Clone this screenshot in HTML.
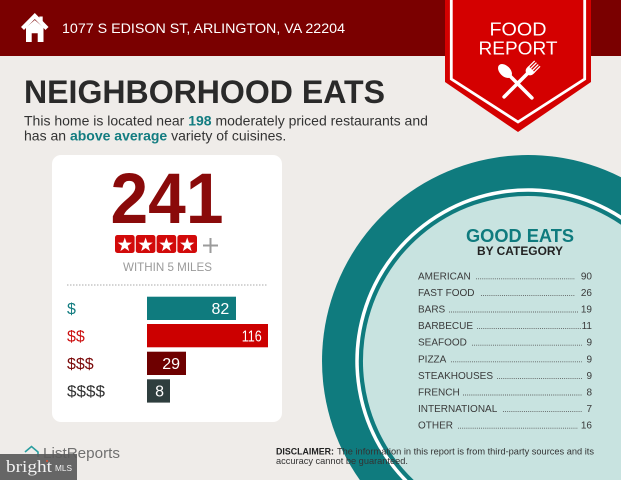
<!DOCTYPE html>
<html>
<head>
<meta charset="utf-8">
<style>
html,body{margin:0;padding:0;background:#efece9;width:621px;height:480px;overflow:hidden;}
svg{display:block;position:absolute;left:0;top:0;}
text{font-family:"Liberation Sans",Arial,sans-serif;}
</style>
</head>
<body>
<svg width="621" height="480" viewBox="0 0 621 480" xmlns="http://www.w3.org/2000/svg">
  <rect width="621" height="480" fill="#efece9"/>

  <!-- Plate circle (clipped to frame geometrically) -->
  <path d="M359.85,480 A206,206 0 0 1 621,177.2 L621,480 Z" fill="#0f7b7e"/>
  <path d="M402.8,480 A172.75,172.75 0 0 1 621,215.4 L621,480 Z" fill="#ffffff"/>
  <path d="M407.65,480 A169.25,169.25 0 0 1 621,219.6 L621,480 Z" fill="#0f7b7e"/>
  <path d="M413.7,480 A165,165 0 0 1 621,224.7 L621,480 Z" fill="#c8e3e0"/>

  <!-- Header bar -->
  <rect x="0" y="0" width="621" height="56" fill="#7a0000"/>

  <!-- House icon -->
  <polyline points="22.5,28.5 34.8,16 47,28.5" fill="none" stroke="#fff" stroke-width="4.2"/>
  <polygon points="26,27.5 34.8,20 43.5,27.5 43.5,42 37.7,42 37.7,33.3 31.7,33.3 31.7,42 26,42" fill="#fff"/>
  <rect x="39.3" y="16.5" width="3.4" height="7" fill="#fff"/>

  <text x="62" y="33" font-size="14" fill="#ffffff" textLength="283" lengthAdjust="spacingAndGlyphs">1077 S EDISON ST, ARLINGTON, VA 22204</text>

  <!-- Banner -->
  <polygon points="445,0 591,0 591,82 518,132 445,82" fill="#d40000"/>
  <polyline points="451.3,0 451.3,79 518,122 584.7,79 584.7,0" fill="none" stroke="#ffffff" stroke-width="2.8"/>
  <text x="518" y="35.7" font-size="18" fill="#fff" text-anchor="middle" textLength="57" lengthAdjust="spacingAndGlyphs">FOOD</text>
  <text x="518" y="54.3" font-size="18" fill="#fff" text-anchor="middle" textLength="79" lengthAdjust="spacingAndGlyphs">REPORT</text>
  <!-- spoon -->
  <g transform="translate(505,71) rotate(-45)">
    <ellipse cx="0" cy="0" rx="5.3" ry="8.3" fill="#fff"/>
    <line x1="0" y1="6" x2="0" y2="38" stroke="#fff" stroke-width="3.6" stroke-linecap="round"/>
  </g>
  <!-- fork -->
  <g transform="translate(531,70) rotate(45)">
    <line x1="0" y1="3" x2="0" y2="38" stroke="#fff" stroke-width="3.6" stroke-linecap="round"/>
    <path d="M-4.5,-1 L4.5,-1 L4.5,1 Q4.5,5 0,6 Q-4.5,5 -4.5,1 Z" fill="#fff"/>
    <line x1="-3.8" y1="-9" x2="-3.8" y2="0" stroke="#fff" stroke-width="1.3"/>
    <line x1="-1.3" y1="-9" x2="-1.3" y2="0" stroke="#fff" stroke-width="1.3"/>
    <line x1="1.3" y1="-9" x2="1.3" y2="0" stroke="#fff" stroke-width="1.3"/>
    <line x1="3.8" y1="-9" x2="3.8" y2="0" stroke="#fff" stroke-width="1.3"/>
  </g>

  <!-- Title -->
  <text x="24" y="103" font-size="32" font-weight="bold" fill="#2a2a2a" textLength="361" lengthAdjust="spacingAndGlyphs">NEIGHBORHOOD EATS</text>
  <text x="24" y="125.5" font-size="14" fill="#333333">This home is located near <tspan font-weight="bold" fill="#127c80">198</tspan> moderately priced restaurants and</text>
  <text x="24" y="140.5" font-size="14" fill="#333333">has an <tspan font-weight="bold" fill="#127c80">above average</tspan> variety of cuisines.</text>

  <!-- Card -->
  <rect x="52" y="155" width="230" height="267" rx="9" fill="#ffffff"/>
  <text x="167" y="223" font-size="71" font-weight="bold" fill="#8a0a0a" text-anchor="middle" textLength="113" lengthAdjust="spacingAndGlyphs">241</text>

  <!-- stars -->
  <g>
    <rect x="115" y="235" width="19.6" height="18" rx="2.5" fill="#d20a0a"/>
    <rect x="135.8" y="235" width="19.6" height="18" rx="2.5" fill="#d20a0a"/>
    <rect x="156.6" y="235" width="19.6" height="18" rx="2.5" fill="#d20a0a"/>
    <rect x="177.4" y="235" width="19.6" height="18" rx="2.5" fill="#d20a0a"/>
    <polygon transform="translate(124.8,245)" points="0,-7.5 1.76,-2.43 7.13,-2.32 2.85,0.93 4.41,6.07 0,3 -4.41,6.07 -2.85,0.93 -7.13,-2.32 -1.76,-2.43" fill="#fff"/>
    <polygon transform="translate(145.6,245)" points="0,-7.5 1.76,-2.43 7.13,-2.32 2.85,0.93 4.41,6.07 0,3 -4.41,6.07 -2.85,0.93 -7.13,-2.32 -1.76,-2.43" fill="#fff"/>
    <polygon transform="translate(166.4,245)" points="0,-7.5 1.76,-2.43 7.13,-2.32 2.85,0.93 4.41,6.07 0,3 -4.41,6.07 -2.85,0.93 -7.13,-2.32 -1.76,-2.43" fill="#fff"/>
    <polygon transform="translate(187.2,245)" points="0,-7.5 1.76,-2.43 7.13,-2.32 2.85,0.93 4.41,6.07 0,3 -4.41,6.07 -2.85,0.93 -7.13,-2.32 -1.76,-2.43" fill="#fff"/>
    <line x1="203" y1="245.5" x2="218" y2="245.5" stroke="#9b9b9b" stroke-width="2"/>
    <line x1="210.5" y1="238" x2="210.5" y2="253" stroke="#9b9b9b" stroke-width="2"/>
  </g>
  <text x="167.5" y="271" font-size="11.6" fill="#9a9a9a" text-anchor="middle" textLength="89" lengthAdjust="spacingAndGlyphs">WITHIN 5 MILES</text>
  <line x1="67" y1="285" x2="268" y2="285" stroke="#aaaaaa" stroke-width="1" stroke-dasharray="1.5 1.5"/>

  <!-- bars -->
  <rect x="147" y="296.7" width="89" height="23.3" fill="#0f7b7e"/>
  <rect x="147" y="324" width="121" height="23.3" fill="#cc0000"/>
  <rect x="147" y="351.7" width="39" height="23.3" fill="#6e0000"/>
  <rect x="147" y="379.3" width="23" height="23.3" fill="#2e3e3e"/>
  <text x="229.3" y="314" font-size="16" fill="#fff" text-anchor="end">82</text>
  <text x="261.7" y="341.5" font-size="16" fill="#fff" text-anchor="end" textLength="20" lengthAdjust="spacingAndGlyphs">116</text>
  <text x="180" y="369" font-size="16" fill="#fff" text-anchor="end">29</text>
  <text x="164" y="396.5" font-size="16" fill="#fff" text-anchor="end">8</text>
  <text x="67" y="314" font-size="16" fill="#127c80">$</text>
  <text x="67" y="341.5" font-size="16" fill="#cc1111">$$</text>
  <text x="67" y="369" font-size="16" fill="#7a0808">$$$</text>
  <text x="67" y="396.5" font-size="16" fill="#333333" textLength="38" lengthAdjust="spacingAndGlyphs">$$$$</text>

  <!-- Good eats -->
  <text x="520" y="242" font-size="18" font-weight="bold" fill="#0f7b7e" text-anchor="middle" textLength="108" lengthAdjust="spacingAndGlyphs">GOOD EATS</text>
  <text x="520" y="255" font-size="11.5" font-weight="bold" fill="#222222" text-anchor="middle" textLength="86" lengthAdjust="spacingAndGlyphs">BY CATEGORY</text>

  <g font-size="10" fill="#3a3a3a">
    <text x="418" y="279.3">AMERICAN</text>
    <text x="418" y="295.9">FAST FOOD</text>
    <text x="418" y="312.5">BARS</text>
    <text x="418" y="329.1">BARBECUE</text>
    <text x="418" y="345.7">SEAFOOD</text>
    <text x="418" y="362.3">PIZZA</text>
    <text x="418" y="378.9">STEAKHOUSES</text>
    <text x="418" y="395.5">FRENCH</text>
    <text x="418" y="412.1">INTERNATIONAL</text>
    <text x="418" y="428.7">OTHER</text>
  </g>
  <g font-size="10" fill="#3a3a3a" text-anchor="end">
    <text x="592" y="279.3">90</text>
    <text x="592" y="295.9">26</text>
    <text x="592" y="312.5">19</text>
    <text x="592" y="329.1">11</text>
    <text x="592" y="345.7">9</text>
    <text x="592" y="362.3">9</text>
    <text x="592" y="378.9">9</text>
    <text x="592" y="395.5">8</text>
    <text x="592" y="412.1">7</text>
    <text x="592" y="428.7">16</text>
  </g>
  <g stroke="#555555" stroke-width="0.9" stroke-dasharray="0.9 1.2">
    <line x1="476" y1="278.8" x2="575" y2="278.8"/>
    <line x1="481" y1="295.4" x2="575" y2="295.4"/>
    <line x1="449" y1="312" x2="578" y2="312"/>
    <line x1="477" y1="328.6" x2="582" y2="328.6"/>
    <line x1="472" y1="345.2" x2="582" y2="345.2"/>
    <line x1="451" y1="361.8" x2="582" y2="361.8"/>
    <line x1="497" y1="378.4" x2="582" y2="378.4"/>
    <line x1="463" y1="395" x2="582" y2="395"/>
    <line x1="503" y1="411.6" x2="582" y2="411.6"/>
    <line x1="458" y1="428.2" x2="578" y2="428.2"/>
  </g>

  <!-- Disclaimer -->
  <text x="276" y="454.5" font-size="9.5" font-weight="bold" fill="#222" textLength="58" lengthAdjust="spacingAndGlyphs">DISCLAIMER:</text>
  <text x="337" y="454.5" font-size="9.5" fill="#333" textLength="257" lengthAdjust="spacingAndGlyphs">The information in this report is from third-party sources and its</text>
  <text x="276" y="464" font-size="9.5" fill="#333" textLength="132" lengthAdjust="spacingAndGlyphs">accuracy cannot be guaranteed.</text>

  <!-- ListReports logo -->
  <path d="M25,452 L31.5,446.5 L38,452 L38,457" fill="none" stroke="#2a9ea0" stroke-width="1.6"/>
  <text x="43" y="458" font-size="15" fill="#707070" textLength="77" lengthAdjust="spacingAndGlyphs">ListReports</text>

  <!-- bright MLS watermark -->
  <rect x="0" y="454" width="77" height="26" fill="#5a5a5a" opacity="0.92"/>
  <text x="6" y="472" font-size="17" fill="#f2f2f2" textLength="46" lengthAdjust="spacingAndGlyphs" style="font-family:'Liberation Serif',serif">bright</text>
  <circle cx="47" cy="461" r="1" fill="#e05030"/>
  <text x="55" y="471" font-size="8.5" fill="#f2f2f2" textLength="17" lengthAdjust="spacingAndGlyphs">MLS</text>
</svg>
</body>
</html>
